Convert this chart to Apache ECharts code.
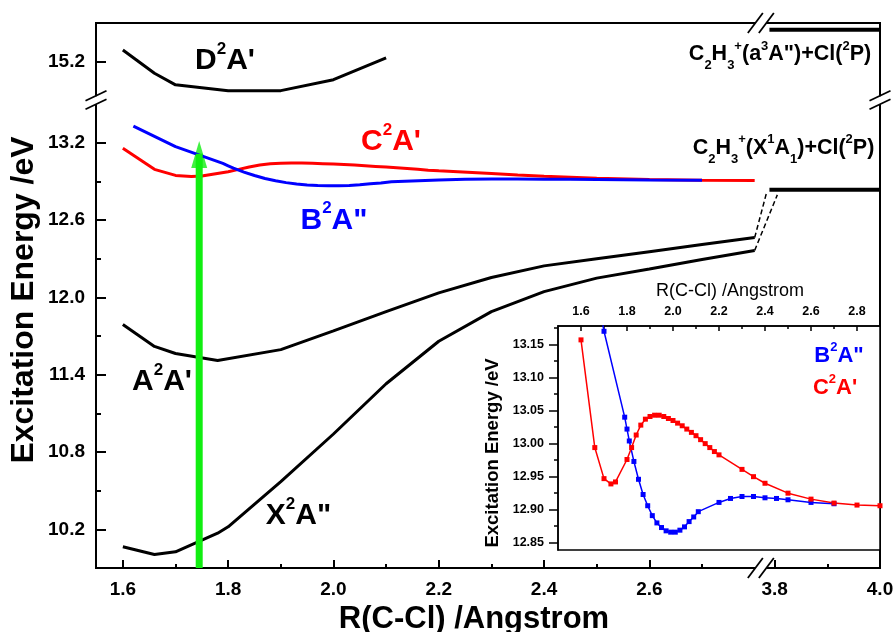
<!DOCTYPE html>
<html>
<head>
<meta charset="utf-8">
<title>Excitation energy vs R(C-Cl)</title>
<script src="https://cdn.jsdelivr.net/npm/echarts@6.0.0/dist/echarts.min.js"></script>
<style>
  html, body { margin: 0; padding: 0; background: #fff; }
  #main { width: 894px; height: 632px; }
</style>
</head>
<body>
<div id="main"></div>
<script>
// values (R in Angstrom, energy in eV)
var stateD = [[1.6, 15.29], [1.66, 15.11], [1.7, 15.02], [1.8, 14.975], [1.9, 14.975], [2.0, 15.06], [2.1, 15.23]];
var stateA = [[1.6, 11.79], [1.66, 11.62], [1.7, 11.565], [1.78, 11.51], [1.9, 11.595], [2.0, 11.74], [2.1, 11.89],
              [2.2, 12.035], [2.3, 12.155], [2.4, 12.245], [2.5, 12.30], [2.6, 12.355], [2.7, 12.41], [2.8, 12.465]];
var stateX = [[1.6, 10.065], [1.66, 10.005], [1.7, 10.026], [1.78, 10.17], [1.8, 10.22], [1.9, 10.57], [2.0, 10.94],
              [2.1, 11.33], [2.2, 11.66], [2.3, 11.89], [2.4, 12.045], [2.5, 12.15], [2.6, 12.22], [2.7, 12.295], [2.8, 12.365]];
// C2A' (red)
var stateC = [[1.6, 13.157], [1.66, 12.994], [1.7, 12.947], [1.73, 12.939], [1.75, 12.942], [1.8, 12.976], [1.82, 12.994],
              [1.84, 13.013], [1.86, 13.028], [1.88, 13.037], [1.9, 13.041], [1.92, 13.043], [1.94, 13.043], [1.96, 13.041],
              [1.98, 13.038], [2.0, 13.035], [2.02, 13.031], [2.04, 13.027], [2.06, 13.022], [2.08, 13.017], [2.1, 13.012],
              [2.12, 13.006], [2.14, 13.0], [2.16, 12.994], [2.18, 12.988], [2.2, 12.983], [2.3, 12.961], [2.35, 12.95],
              [2.4, 12.94], [2.5, 12.925], [2.6, 12.916], [2.7, 12.91], [2.8, 12.907], [2.9, 12.906]];
// B2A'' (blue)
var stateB = [[1.62, 13.33], [1.7, 13.17], [1.79, 13.04], [1.8, 13.022], [1.81, 13.004], [1.83, 12.973], [1.85, 12.946],
              [1.87, 12.923], [1.89, 12.906], [1.91, 12.891], [1.93, 12.88], [1.95, 12.873], [1.97, 12.868], [1.99, 12.866],
              [2.01, 12.866], [2.03, 12.869], [2.05, 12.874], [2.07, 12.882], [2.09, 12.889], [2.11, 12.897], [2.2, 12.911],
              [2.25, 12.917], [2.3, 12.92], [2.35, 12.92], [2.4, 12.918], [2.45, 12.917], [2.5, 12.915], [2.6, 12.911], [2.7, 12.909]];
var dashA = [[2.8, 12.465], [3.785, 12.82]];
var dashX = [[2.8, 12.365], [3.805, 12.796]];
var limitX1 = [[3.79, 12.835], [4.0, 12.835]];
var limitA3 = [[3.79, 15.448], [4.0, 15.448]];
var arrowR = 1.745, arrowFrom = 9.9, arrowTo = 13.215;

var mainXTicks = [1.6, 1.8, 2.0, 2.2, 2.4, 2.6, 3.8, 4.0];
var mainXMinor = [1.7, 1.9, 2.1, 2.3, 2.5, 2.7, 3.9];
var mainYTicks = [10.2, 10.8, 11.4, 12.0, 12.6, 13.2, 15.2];
var mainYMinor = [10.5, 11.1, 11.7, 12.3, 12.9];
var insetXTicks = [1.6, 1.8, 2.0, 2.2, 2.4, 2.6, 2.8];
var insetXMinor = [1.7, 1.9, 2.1, 2.3, 2.5, 2.7];
var insetYTicks = [12.85, 12.90, 12.95, 13.00, 13.05, 13.10, 13.15];
var insetYMinor = [12.875, 12.925, 12.975, 13.025, 13.075, 13.125, 13.175];

var FONT = '"Liberation Sans", Arial, sans-serif';
var RED = '#ff0000', BLUE = '#0000ff', GREEN = '#11ee11';
var G = { left: 96, top: 23, right: 880, bottom: 568 };       // main plot box
var GI = { left: 558, top: 326, right: 880, bottom: 550 };    // inset plot box
var xBreak = { start: 2.807, end: 3.769, gap: 0 };
var yBreak = { start: 13.53, end: 14.9, gap: 0 };

var chart = echarts.init(document.getElementById('main'));

function tickAxis(extra) {
    return Object.assign({
        type: 'value',
        splitLine: { show: false },
        axisLine: { show: false },
        axisLabel: { show: false },
        breakArea: { show: false }
    }, extra);
}
function labelStyle(size, margin, digits) {
    return {
        margin: margin, color: '#000', fontSize: size, fontWeight: 'bold', fontFamily: FONT,
        formatter: function (v) { return Number(v).toFixed(digits); }
    };
}

var mainX = { gridIndex: 0, min: 1.549, max: 4.0, breaks: [xBreak], position: 'bottom' };
var mainY = { gridIndex: 0, min: 9.9, max: 15.5, breaks: [yBreak], position: 'left' };
var insX = { gridIndex: 1, min: 1.5, max: 2.9, position: 'top' };
var insY = { gridIndex: 1, min: 12.839, max: 13.178, position: 'left' };

var xAxes = [
    tickAxis(Object.assign({}, mainX, {
        axisLine: { show: true, onZero: false, lineStyle: { color: '#000', width: 2 } },
        axisTick: { inside: true, length: 8, customValues: mainXTicks, lineStyle: { color: '#000', width: 2 } },
        axisLabel: Object.assign(labelStyle(19, 12, 1), { customValues: mainXTicks })
    })),
    tickAxis(Object.assign({}, mainX, {
        axisTick: { inside: true, length: 4, customValues: mainXMinor, lineStyle: { color: '#000', width: 2 } }
    })),
    tickAxis(Object.assign({}, insX, {
        axisLine: { show: true, onZero: false, lineStyle: { color: '#000', width: 1.5 } },
        axisTick: { inside: true, length: 5, customValues: insetXTicks, lineStyle: { color: '#000', width: 1.5 } },
        axisLabel: Object.assign(labelStyle(12.5, 8, 1), { customValues: insetXTicks })
    })),
    tickAxis(Object.assign({}, insX, {
        axisTick: { inside: true, length: 3, customValues: insetXMinor, lineStyle: { color: '#000', width: 1.5 } }
    }))
];
var yAxes = [
    tickAxis(Object.assign({}, mainY, {
        axisLine: { show: true, onZero: false, lineStyle: { color: '#000', width: 2 } },
        axisTick: { inside: true, length: 10, customValues: mainYTicks, lineStyle: { color: '#000', width: 2 } },
        axisLabel: Object.assign(labelStyle(19, 11, 1), { customValues: mainYTicks })
    })),
    tickAxis(Object.assign({}, mainY, {
        axisTick: { inside: true, length: 5, customValues: mainYMinor, lineStyle: { color: '#000', width: 2 } }
    })),
    tickAxis(Object.assign({}, insY, {
        axisLine: { show: true, onZero: false, lineStyle: { color: '#000', width: 1.5 } },
        axisTick: { inside: false, length: 9, customValues: insetYTicks, lineStyle: { color: '#000', width: 1.5 } },
        axisLabel: Object.assign(labelStyle(12.5, 14, 2), { customValues: insetYTicks })
    })),
    tickAxis(Object.assign({}, insY, {
        axisTick: { inside: false, length: 4, customValues: insetYMinor, lineStyle: { color: '#000', width: 1.5 } }
    }))
];

function mainLine(data, color, width, dashed) {
    return {
        type: 'line', xAxisIndex: 0, yAxisIndex: 0, data: data, showSymbol: false, symbol: 'none',
        lineStyle: { color: color, width: width, type: dashed ? [5, 3] : 'solid' }, silent: true
    };
}
function insetLine(data, color) {
    return {
        type: 'line', xAxisIndex: 2, yAxisIndex: 2, data: data, symbol: 'rect', symbolSize: 5,
        itemStyle: { color: color }, lineStyle: { color: color, width: 1.5 }, silent: true
    };
}
var upTo28 = function (p) { return p[0] <= 2.8; };

chart.setOption({
    animation: false,
    backgroundColor: '#fff',
    grid: [
        { left: G.left, top: G.top, width: G.right - G.left, height: G.bottom - G.top, show: true,
          borderColor: '#000', borderWidth: 2, backgroundColor: 'transparent', outerBoundsMode: 'none' },
        { left: GI.left, top: GI.top, width: GI.right - GI.left, height: GI.bottom - GI.top, show: true,
          borderColor: '#000', borderWidth: 1.5, backgroundColor: '#fff', outerBoundsMode: 'none' }
    ],
    xAxis: xAxes,
    yAxis: yAxes,
    series: [
        mainLine(stateD, '#000', 3),
        mainLine(stateA, '#000', 3),
        mainLine(stateX, '#000', 3),
        mainLine(dashA, '#000', 1.5, true),
        mainLine(dashX, '#000', 1.5, true),
        mainLine(limitX1, '#000', 4),
        mainLine(limitA3, '#000', 4),
        mainLine(stateC.filter(upTo28), RED, 3),
        mainLine(stateB.filter(upTo28), BLUE, 3),
        mainLine([[arrowR, arrowFrom], [arrowR, arrowTo - 0.1]], GREEN, 7),
        {
            type: 'scatter', xAxisIndex: 0, yAxisIndex: 0, data: [[arrowR, arrowTo]], symbol: 'triangle',
            symbolSize: [16, 27], symbolOffset: [0, '50%'], itemStyle: { color: GREEN }, silent: true
        },
        insetLine(stateB, BLUE),
        insetLine(stateC, RED)
    ]
});

// ---- annotations ----
function richStyles(size, sub, color, q) {
    var base = { fontWeight: 'bold', fontFamily: FONT, fill: color, lineHeight: size, verticalAlign: 'bottom' };
    var pSup = q + 0.858 * size + 0.25 * size - 0.858 * sub;
    var pSub = Math.max(0, q - 0.228 * size - 0.142 * sub);
    return {
        b: Object.assign({}, base, { fontSize: size, padding: [0, 0, q, 0] }),
        sup: Object.assign({}, base, { fontSize: sub, padding: [0, 0, pSup, 0] }),
        sub: Object.assign({}, base, { fontSize: sub, padding: [0, 0, pSub, 0] })
    };
}
function richLabel(text, x, capY, size, sub, color, q) {
    q = q || 0;
    return {
        type: 'text', x: x, y: capY + q + size / 2, z: 60, silent: true,
        style: { text: text, rich: richStyles(size, sub, color, q), fill: color,
                 align: 'center', textAlign: 'center', verticalAlign: 'bottom', textVerticalAlign: 'bottom' }
    };
}
function plainText(text, x, y, size, weight, rot) {
    return {
        type: 'text', x: x, y: y, rotation: rot || 0, z: 60, silent: true,
        style: { text: text, fill: '#000', fontSize: size, fontWeight: weight, fontFamily: FONT,
                 align: 'center', textAlign: 'center', verticalAlign: 'middle', textVerticalAlign: 'middle' }
    };
}

var bx = chart.convertToPixel({ xAxisIndex: 0 }, xBreak.start);
var by = chart.convertToPixel({ yAxisIndex: 0 }, yBreak.start);
var breakStroke = { stroke: '#000', lineWidth: 1.8 };
function whiteRect(x, y, w, h) {
    return { type: 'rect', z: 80, silent: true, shape: { x: x, y: y, width: w, height: h }, style: { fill: '#fff' } };
}
function slash(cx, cy, dx, dy) {
    return { type: 'line', z: 81, silent: true, shape: { x1: cx - dx, y1: cy + dy, x2: cx + dx, y2: cy - dy }, style: breakStroke };
}

var graphics = [
    // gaps in the frame at the breaks
    whiteRect(bx - 3, G.top - 3, 11, 6),
    whiteRect(bx - 3, G.bottom - 3, 11, 6),
    whiteRect(G.left - 3, by - 4, 6, 8),
    whiteRect(G.right - 3, by - 4, 6, 8),
    slash(bx - 3, G.top, 7.5, 10), slash(bx + 8, G.top, 7.5, 10),
    slash(bx - 3, G.bottom, 7.5, 10), slash(bx + 8, G.bottom, 7.5, 10),
    slash(G.left, by - 4.5, 10.5, 5), slash(G.left, by + 4, 10.5, 5),
    slash(G.right, by - 4.5, 10.5, 5), slash(G.right, by + 4, 10.5, 5),

    // axis titles
    plainText('Excitation Energy /eV', 24, 300, 32, 'bold', Math.PI / 2),
    plainText('R(C-Cl) /Angstrom', 474, 619, 31, 'bold'),
    plainText('R(C-Cl) /Angstrom', 730, 291, 18, 'normal'),
    plainText('Excitation Energy /eV', 493, 453, 18.5, 'bold', Math.PI / 2),

    // state labels
    richLabel("{b|D}{sup|2}{b|A'}", 225, 61, 30, 17, '#000'),
    richLabel("{b|C}{sup|2}{b|A'}", 391, 142, 30, 17, RED),
    richLabel('{b|B}{sup|2}{b|A"}', 334, 220.5, 30, 17, BLUE),
    richLabel("{b|A}{sup|2}{b|A'}", 162, 382, 30, 17, '#000'),
    richLabel('{b|X}{sup|2}{b|A"}', 298.5, 516, 30, 17, '#000'),
    richLabel('{b|C}{sub|2}{b|H}{sub|3}{sup|+}{b|(a}{sup|3}{b|A")+Cl(}{sup|2}{b|P)}', 780, 54.5, 21.5, 13, '#000', 7),
    richLabel('{b|C}{sub|2}{b|H}{sub|3}{sup|+}{b|(X}{sup|1}{b|A}{sub|1}{b|)+Cl(}{sup|2}{b|P)}', 783.5, 148.3, 21.5, 13, '#000', 7),
    richLabel('{b|B}{sup|2}{b|A"}', 839, 356, 22, 13, BLUE),
    richLabel("{b|C}{sup|2}{b|A'}", 835, 388.3, 22, 13, RED)
];

chart.setOption({ graphic: graphics });
</script>
</body>
</html>
